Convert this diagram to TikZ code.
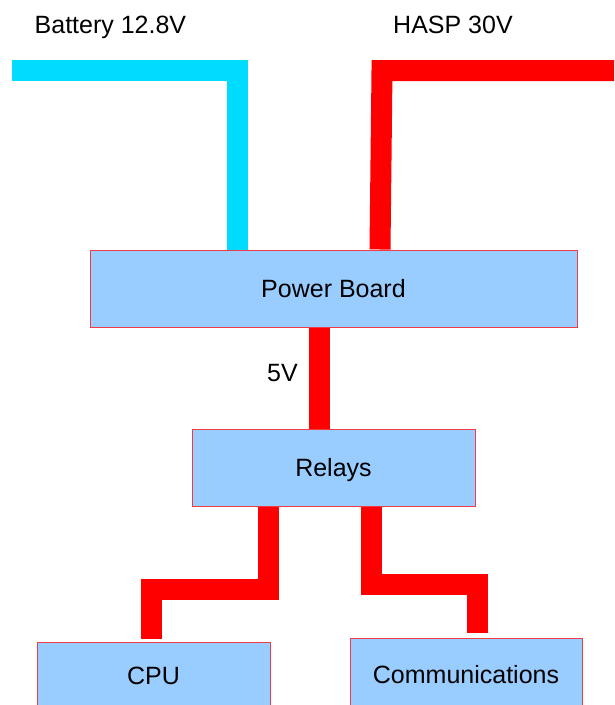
\documentclass[tikz,border=0pt]{standalone}
\usepackage{fontspec}
\setmainfont{Liberation Sans}
\usetikzlibrary{calc,backgrounds}
\definecolor{wirecyan}{RGB}{0,220,255}
\definecolor{wirered}{RGB}{255,0,0}
\definecolor{boxblue}{RGB}{153,204,255}
\definecolor{boxedge}{RGB}{240,60,70}

\tikzset{
  unitbox/.style={draw=boxedge, line width=1pt, fill=boxblue, inner sep=0pt,
    text height=18pt, text depth=0pt, font=\fontsize{25}{30}\selectfont},
  wire/.style={line width=21pt, line join=miter, line cap=butt},
  label/.style={inner sep=0pt, text height=18pt, text depth=0pt, anchor=west,
    font=\fontsize{25}{30}\selectfont}
}

\begin{document}
\begin{tikzpicture}[x=1pt,y=-1pt]

% Frame
\useasboundingbox (0,0) rectangle (614,705);
\clip (0,0) rectangle (614,705);

% Boxes
\node[unitbox, minimum width=487pt, minimum height=77pt] (pwr) at (333.5,288.5) {Power Board};
\node[unitbox, minimum width=283pt, minimum height=77pt] (relays) at (333.5,467.5) {Relays};
\node[unitbox, minimum width=233pt, minimum height=66pt] (cpu) at (153.5,675) {CPU};
\node[unitbox, minimum width=232pt, minimum height=72pt] (comm) at (466,674) {Communications};

% Supply labels
\node[label] (battlbl) at (34.5,24) {Battery 12.8V};
\node[label] (hasplbl) at (393,24) {HASP 30V};
\node[label] (fivelbl) at (267,372) {5V};

% Free wire ends
\coordinate (batt) at (12,70.5);
\coordinate (hasp) at (614,70.5);

% Wires
\begin{scope}[on background layer]
\draw[wire, wirecyan] (batt) -- (237,70.5) -- ([xshift=-96.5]pwr.north);
\draw[wire, wirered] (hasp) -- (382,70.5) -- ([xshift=46.5]pwr.north);
\draw[wire, wirered] ([xshift=-14]pwr.south) -- ([xshift=-14]relays.north);
\draw[wire, wirered] ([xshift=-65.5]relays.south) -- ++(0,82.5) -| ([xshift=-2.5,yshift=3]cpu.north);
\draw[wire, wirered] ([xshift=37.5]relays.south) -- ++(0,78) -| ([xshift=11,yshift=5]comm.north);
\end{scope}

\end{tikzpicture}
\end{document}
